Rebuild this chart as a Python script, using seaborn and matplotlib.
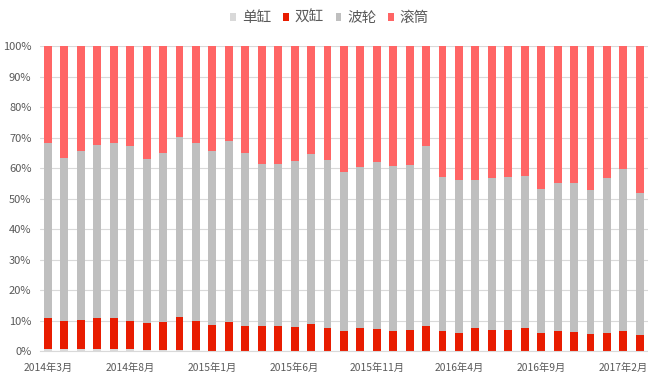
import numpy as np
import pandas as pd
import matplotlib
matplotlib.use("Agg")
import matplotlib.pyplot as plt
import seaborn as sns
from matplotlib.patches import Patch

sns.set_theme(style="white")
plt.rcParams['font.family'] = ['Noto Sans CJK SC', 'DejaVu Sans']

months = [
    "2014年3月", "2014年4月", "2014年5月", "2014年6月", "2014年7月", "2014年8月",
    "2014年9月", "2014年10月", "2014年11月", "2014年12月", "2015年1月", "2015年2月",
    "2015年3月", "2015年4月", "2015年5月", "2015年6月", "2015年7月", "2015年8月",
    "2015年9月", "2015年10月", "2015年11月", "2015年12月", "2016年1月", "2016年2月",
    "2016年3月", "2016年4月", "2016年5月", "2016年6月", "2016年7月", "2016年8月",
    "2016年9月", "2016年10月", "2016年11月", "2016年12月", "2017年1月", "2017年2月",
    "2017年3月",
]

single = [0.7, 0.7, 0.7, 0.8, 0.8, 0.6, 0.4, 0.4, 0.4, 0.4, 0.2, 0.2,
          0.2, 0.2, 0.2, 0.2, 0.2, 0.2, 0.2, 0.2, 0.2, 0.2, 0.2, 0.2,
          0.2, 0.2, 0.2, 0.2, 0.2, 0.2, 0.2, 0.2, 0.2, 0.2, 0.2, 0.2, 0.2]
twin = [10.1, 9.2, 9.5, 10.2, 10.0, 9.4, 8.8, 9.2, 10.7, 9.5, 8.5, 9.5,
        8.2, 8.2, 8.2, 7.9, 8.6, 7.4, 6.5, 7.4, 7.2, 6.4, 6.8, 8.2,
        6.5, 5.7, 7.3, 6.8, 6.8, 7.4, 5.7, 6.4, 6.0, 5.5, 5.7, 6.4, 5.2]
pulsator = [57.4, 53.3, 55.3, 56.5, 57.4, 57.1, 53.8, 55.4, 59.0, 58.3, 56.8, 59.2,
            56.5, 52.9, 52.9, 54.2, 55.7, 55.0, 51.9, 52.9, 54.5, 54.2, 54.0, 58.8,
            50.5, 50.2, 48.6, 49.7, 50.0, 49.9, 47.3, 48.4, 48.8, 47.1, 50.8, 53.1, 46.5]
drum = [31.8, 36.8, 34.5, 32.5, 31.8, 32.9, 37.0, 35.0, 29.9, 31.8, 34.5, 31.1,
        35.1, 38.7, 38.7, 37.7, 35.5, 37.4, 41.4, 39.5, 38.1, 39.2, 39.0, 32.8,
        42.8, 43.9, 43.9, 43.3, 43.0, 42.5, 46.8, 45.0, 45.0, 47.2, 43.3, 40.3, 48.1]

series_names = ["单缸", "双缸", "波轮", "滚筒"]
colors = ["#D9D9D9", "#E81C00", "#BFBFBF", "#FF6565"]

df = pd.DataFrame({"月份": months, "单缸": single, "双缸": twin,
                   "波轮": pulsator, "滚筒": drum})
total = df[series_names].sum(axis=1)
shares = df[series_names].div(total, axis=0) * 100
cum = shares.cumsum(axis=1)
cum["月份"] = df["月份"]

fig = plt.figure(figsize=(6.48, 3.76), dpi=100)
ax = fig.add_axes([0.0614, 0.0657, 0.9386, 0.8120])
ax.set_axisbelow(True)

for name, color in reversed(list(zip(series_names, colors))):
    sns.barplot(data=cum, x="月份", y=name, order=months, color=color,
                saturation=1, width=0.48, errorbar=None, linewidth=0, ax=ax)

ax.set_xlim(-0.5, len(months) - 0.5)
ax.set_ylim(0, 100)
ax.set_yticks(np.arange(0, 101, 10))
ax.set_yticklabels([f"{v}%" for v in range(0, 101, 10)])
ax.set_xticks(range(0, len(months), 5))
ax.set_xticklabels(months[::5])
ax.set_xticks(np.arange(-0.5, len(months), 5), minor=True)
ax.tick_params(axis="x", which="major", length=0, pad=8, labelsize=7.4, labelcolor="#595959")
ax.tick_params(axis="x", which="minor", length=3, color="#D9D9D9", width=0.8)
ax.tick_params(axis="y", length=0, pad=6, labelsize=8, labelcolor="#595959")
ax.set_xlabel("")
ax.set_ylabel("")
ax.yaxis.grid(True, color="#D9D9D9", linewidth=0.8)
for s in ["top", "right", "left"]:
    ax.spines[s].set_visible(False)
ax.spines["bottom"].set_color("#D9D9D9")
ax.spines["bottom"].set_linewidth(0.8)

handles = [Patch(facecolor=c, edgecolor="none") for c in colors]
fig.legend(handles, series_names, loc="center", bbox_to_anchor=(0.509, 0.952),
           ncol=4, frameon=False, fontsize=10.5, handlelength=0.4, handleheight=0.4,
           handletextpad=0.4, columnspacing=0.8, labelcolor="#595959")

fig.savefig("out.png", dpi=100)
